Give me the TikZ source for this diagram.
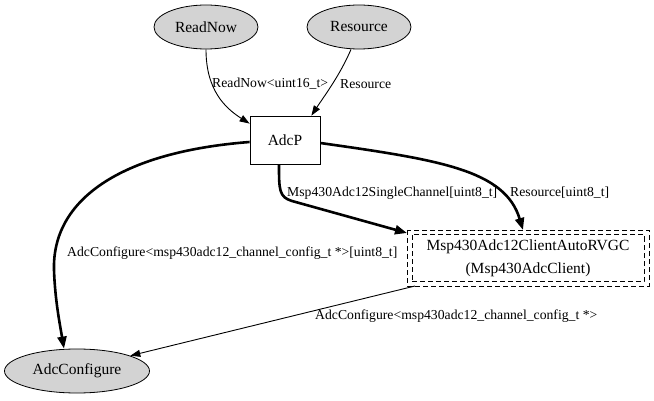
\documentclass[tikz,border=0pt]{standalone}
\usepackage{fontspec}
\setmainfont{Liberation Serif}
\usetikzlibrary{shapes.geometric,arrows.meta}
\definecolor{nodegray}{RGB}{211,211,211}
\tikzset{
  ifc/.style={ellipse, draw, line width=0.8pt, fill=nodegray, inner sep=0pt,
    font=\fontsize{15.5}{18}\selectfont},
  comp/.style={rectangle, draw, line width=0.8pt, inner sep=0pt,
    font=\fontsize{15.5}{18}\selectfont},
  dashbox/.style={dash pattern=on 5pt off 3pt, line width=0.9pt},
  elabel/.style={anchor=west, inner sep=0pt, font=\fontsize{13.7}{16}\selectfont},
  thin edge/.style={line width=0.9pt, -{Triangle[length=10pt,width=7pt]}},
  thick edge/.style={line width=2.6pt, -{Triangle[length=12pt,width=9pt]}},
}
\begin{document}
\begin{tikzpicture}[x=1pt,y=-1pt]
\useasboundingbox (0,0) rectangle (654,401);
\node[ifc, minimum width=104pt, minimum height=44pt] (readnow) at (206,27) {ReadNow};
\node[ifc, minimum width=104pt, minimum height=44pt] (resource) at (359,27) {Resource};
\node[comp, minimum width=70pt, minimum height=48pt] (adcp) at (285,140) {AdcP};
\node[ifc, minimum width=145pt, minimum height=44pt] (adcconf) at (77,371) {AdcConfigure};
\node[rectangle, draw, dashbox, minimum width=232pt, minimum height=47pt,
  align=center, inner sep=0pt, font=\fontsize{15.5}{23}\selectfont] (client) at (528,258)
  {Msp430Adc12ClientAutoRVGC\\(Msp430AdcClient)};
\coordinate (cnw) at (407,230);
\coordinate (cse) at (649,286);
\draw[dashbox] (cnw) rectangle (cse);
\coordinate (cin1) at (407,233);
\coordinate (cin2) at (523,230);
\coordinate (cout) at (415,286);

% edges
\draw[thin edge] (readnow.south) .. controls (206,90) and (225,108) .. ([yshift=-8pt]adcp.north west);
\draw[thin edge] ([xshift=-8pt]resource.south) .. controls (340,75) and (325,95) .. ([xshift=-9pt]adcp.north east);
\draw[thick edge] ([yshift=-2pt]adcp.west) .. controls (120,152) and (52,200) .. (54,270)
   .. controls (55,300) and (60,325) .. ([xshift=-13pt]adcconf.north);
\draw[thick edge] ([xshift=-6pt]adcp.south) .. controls (279,190) and (279,197) .. (292,201) -- (cin1);
\draw[thick edge] ([yshift=-3pt]adcp.east) .. controls (440,160) and (505,170) .. (cin2);
\draw[thin edge] (cout) -- (adcconf.16);

% labels
\node[elabel] (l1) at (212,84) {ReadNow<uint16\_t>};
\node[elabel] (l2) at (340,84) {Resource};
\node[elabel] (l3) at (67,253) {AdcConfigure<msp430adc12\_channel\_config\_t *>[uint8\_t]};
\node[elabel] (l4) at (287,193) {Msp430Adc12SingleChannel[uint8\_t]};
\node[elabel] (l5) at (510,193) {Resource[uint8\_t]};
\node[elabel] (l6) at (315,316) {AdcConfigure<msp430adc12\_channel\_config\_t *>};
\end{tikzpicture}
\end{document}
